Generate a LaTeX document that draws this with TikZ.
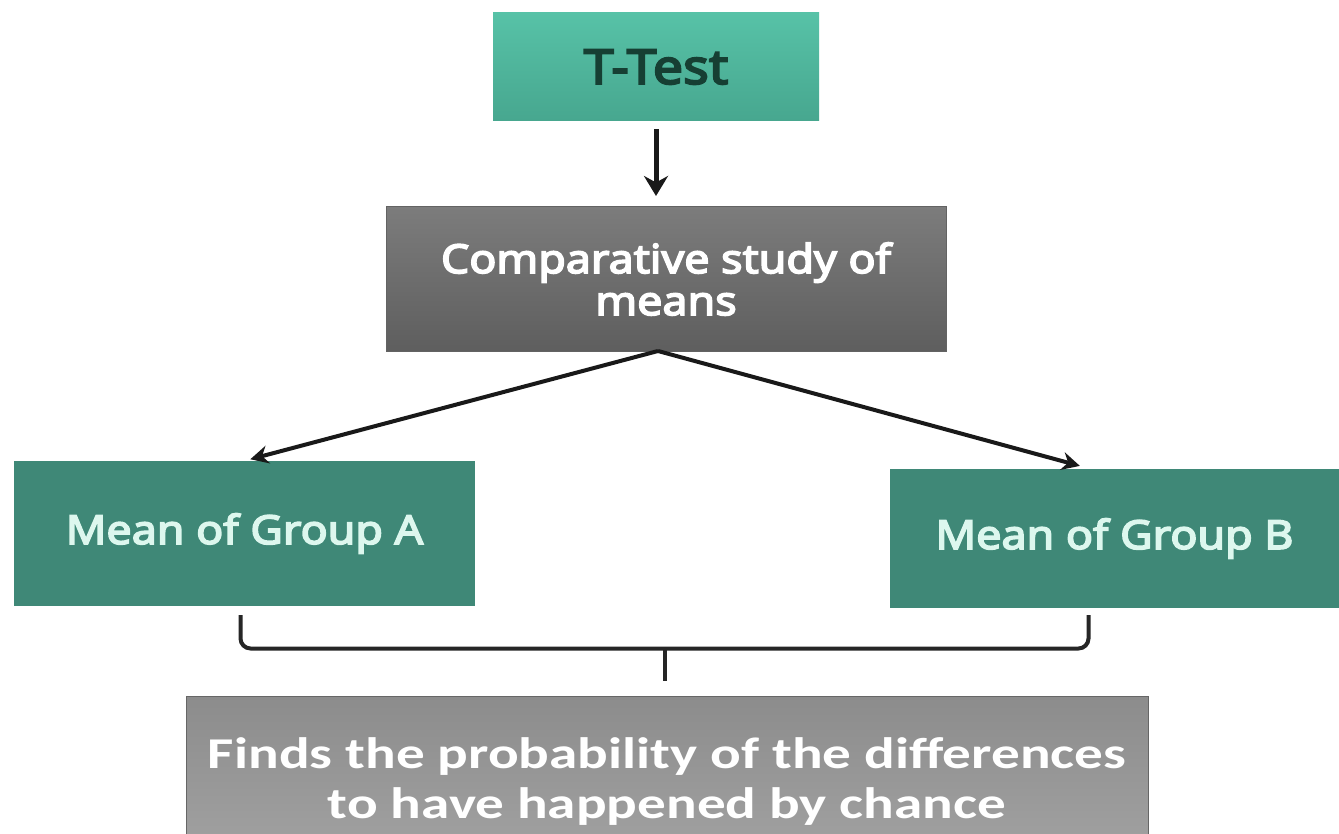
\documentclass[tikz,border=0pt]{standalone}
\usepackage{fontspec}
\setmainfont{Noto Sans}
\newfontfamily\hdr[FakeStretch=1.12, FakeBold=4]{Noto Sans}
\newfontfamily\calib[FakeStretch=1.3]{Carlito}
\usetikzlibrary{arrows.meta,calc}
\definecolor{tealtop}{HTML}{57C2A7}
\definecolor{tealbot}{HTML}{47A78F}
\definecolor{tealdark}{HTML}{3F8877}
\definecolor{midtop}{HTML}{7C7C7C}
\definecolor{midbot}{HTML}{5E5E5E}
\definecolor{lowtop}{HTML}{8C8C8C}
\definecolor{lowbot}{HTML}{A3A3A3}
\definecolor{mint}{HTML}{DDF7EE}
\definecolor{ttext}{HTML}{163F33}
\tikzset{
  box/.style={rectangle, inner sep=0pt, align=center},
  conn/.style={draw=black!90, line width=4pt, -{Stealth[length=18pt,width=18pt]}},
  bigconn/.style={draw=black!90, line width=5pt, -{Stealth[length=20pt,width=24pt]}},
  bracepath/.style={draw=black!85, line width=4pt, rounded corners=10pt}
}
\begin{document}
\begin{tikzpicture}[x=1pt,y=-1pt]
\useasboundingbox (0,0) rectangle (1339,834);
\fill[white] (0,0) rectangle (1339,834);
% T-Test
\node[box, top color=tealtop, bottom color=tealbot, minimum width=326pt, minimum height=108pt,
  text=ttext, font=\hdr\fontsize{48}{50}\selectfont] (ttest) at (656,67) {T-Test};
% Comparative
\node[box, top color=midtop, bottom color=midbot, draw=midtop!80!black, line width=1pt,
  minimum width=560pt, minimum height=145pt, text=white,
  font=\hdr\fontsize{40}{42}\selectfont] (comp) at (666,279) {Comparative study of\\means};
% Mean A
\node[box, fill=tealdark, minimum width=461pt, minimum height=145pt, text=mint,
  font=\hdr\fontsize{40}{42}\selectfont] (ma) at (244.5,533.5) {\raisebox{-4pt}{Mean of Group A}};
% Mean B
\node[box, fill=tealdark, minimum width=449pt, minimum height=139pt, text=mint,
  font=\hdr\fontsize{40}{42}\selectfont] (mb) at (1114.5,538.5) {\raisebox{-4pt}{Mean of Group B}};
% Bottom
\node[box, top color=lowtop, bottom color=lowbot, draw=black!60, line width=1pt,
  minimum width=962pt, minimum height=170pt, text=white,
  font=\calib\bfseries\fontsize{44}{50}\selectfont] (fin) at (667,781) {Finds the probability of the differences\\to have happened by chance};
% arrows
\draw[bigconn, shorten <=8pt, shorten >=10pt] (ttest.south) -- (ttest.south |- comp.north);
\coordinate (split) at ($(comp.south)+(-8,-1)$);
\draw[conn, shorten >=6pt] (split) -- (ma.north);
\draw[conn, shorten >=11pt] (split) -- ($(mb.north)+(-24,0)$);
% brace
\coordinate (bl) at ($(ma.south)+(-4,9)$);
\coordinate (br) at ($(mb.south)+(-26,7)$);
\coordinate (bm) at ($(fin.north)+(-2,-47)$);
\coordinate (bt) at ($(fin.north)+(-2,-15)$);
\draw[bracepath] (bl) |- (bm) -| (br);
\draw[bracepath] (bm) -- (bt);
\end{tikzpicture}
\end{document}
